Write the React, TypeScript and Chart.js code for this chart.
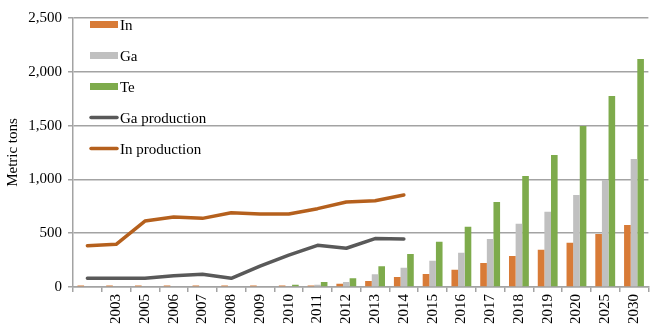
import React, { useEffect, useRef } from 'react';
import { Chart, registerables } from 'chart.js';

Chart.register(...registerables);

// ---- data ----
const categories = ['', '2003', '2005', '2006', '2007', '2008', '2009', '2010', '2011', '2012', '2013', '2014', '2015', '2016', '2017', '2018', '2019', '2020', '2025', '2030'];
const inDemand = [14, 14, 14, 14, 14, 14, 14, 14, 14, 30, 56, 93, 121, 161, 223, 288, 347, 412, 493, 576];
const gaDemand = [7, 7, 7, 7, 7, 7, 7, 7, 20, 46, 118, 180, 245, 319, 446, 588, 700, 855, 994, 1190];
const teDemand = [7, 7, 7, 7, 7, 7, 7, 20, 47, 82, 192, 307, 421, 561, 790, 1032, 1227, 1496, 1775, 2119];
const gaProduction = [81, 81, 81, 105, 118, 81, 195, 297, 387, 360, 450, 446, null, null, null, null, null, null, null, null];
const inProduction = [384, 397, 613, 650, 638, 690, 678, 678, 728, 790, 802, 855, null, null, null, null, null, null, null, null];
const yMin = 0;
const yMax = 2500;
const yStep = 500;
const yTitle = 'Metric tons';

const FONT = '"Liberation Serif", "Times New Roman", serif';
const GRID = '#a3a3a3';
const IN_COLOR = '#d87b37';
const GA_COLOR = '#c0c0c0';
const TE_COLOR = '#7eab4c';
const GA_LINE = '#595959';
const IN_LINE = '#b5601d';

const fmt = (v: number) => String(v).replace(/\B(?=(\d{3})+(?!\d))/g, ',');

const insideLegend = {
  id: 'insideLegend',
  afterDatasetsDraw(chart: any) {
    const { ctx, chartArea } = chart;
    const x0 = chartArea.left + 17;
    ctx.save();
    chart.data.datasets.forEach((ds: any, i: number) => {
      const cy = chartArea.top + 6.5 + i * 31;
      if (ds.type === 'line') {
        ctx.strokeStyle = ds.borderColor;
        ctx.lineWidth = 3.5;
        ctx.lineCap = 'round';
        ctx.beginPath();
        ctx.moveTo(x0 + 1, cy);
        ctx.lineTo(x0 + 27, cy);
        ctx.stroke();
      } else {
        ctx.fillStyle = ds.backgroundColor;
        ctx.fillRect(x0, cy - 3.5, 28, 7);
      }
      ctx.fillStyle = '#000';
      ctx.font = `15px ${FONT}`;
      ctx.textBaseline = 'alphabetic';
      ctx.textAlign = 'left';
      ctx.fillText(ds.label, x0 + 30, cy + 5.5);
    });
    ctx.restore();
  },
};

export default function App() {
  const ref = useRef<HTMLCanvasElement>(null);

  useEffect(() => {
    if (!ref.current) return;
    const chart = new Chart(ref.current, {
      type: 'bar',
      data: {
        labels: categories,
        datasets: [
          { type: 'bar', label: 'In', data: inDemand, backgroundColor: IN_COLOR, categoryPercentage: 0.69, barPercentage: 1, order: 1 },
          { type: 'bar', label: 'Ga', data: gaDemand, backgroundColor: GA_COLOR, categoryPercentage: 0.69, barPercentage: 1, order: 1 },
          { type: 'bar', label: 'Te', data: teDemand, backgroundColor: TE_COLOR, categoryPercentage: 0.69, barPercentage: 1, order: 1 },
          { type: 'line', label: 'Ga production', data: gaProduction, borderColor: GA_LINE, backgroundColor: GA_LINE, borderWidth: 3.5, pointRadius: 0, tension: 0, spanGaps: false, order: 0, borderCapStyle: 'round', borderJoinStyle: 'round' },
          { type: 'line', label: 'In production', data: inProduction, borderColor: IN_LINE, backgroundColor: IN_LINE, borderWidth: 3.5, pointRadius: 0, tension: 0, spanGaps: false, order: 0, borderCapStyle: 'round', borderJoinStyle: 'round' },
        ] as any,
      },
      options: {
        responsive: false,
        animation: false,
        layout: { padding: { left: 0, right: 0, top: 18, bottom: 0 } },
        plugins: {
          legend: { display: false },
          tooltip: { enabled: false },
        },
        scales: {
          x: {
            offset: true,
            grid: { display: true, drawOnChartArea: false, drawTicks: true, tickLength: 5, color: GRID, lineWidth: 1.5, offset: true },
            border: { display: true, color: GRID, width: 1.5 },
            ticks: { color: '#000', font: { family: FONT, size: 15 }, minRotation: 90, maxRotation: 90, autoSkip: false, padding: 2 },
            afterFit: (s: any) => { s.height = 40; },
          },
          y: {
            min: yMin,
            max: yMax,
            grid: { color: GRID, lineWidth: 1.5, tickLength: 5, drawTicks: true },
            border: { display: true, color: GRID, width: 1.5 },
            ticks: { stepSize: yStep, color: '#000', font: { family: FONT, size: 15 }, padding: 6, callback: (v: any) => fmt(Number(v)) },
            title: { display: true, text: yTitle, color: '#000', font: { family: FONT, size: 15 }, padding: { top: 4, bottom: 0 } },
            afterFit: (s: any) => { s.width = 73; },
          },
        },
      },
      plugins: [insideLegend],
    });
    return () => chart.destroy();
  }, []);

  return (
    <div style={{ position: 'fixed', left: 0, top: 0, width: 654, height: 327, background: '#fff' }}>
      <canvas ref={ref} width={654} height={327} style={{ display: 'block' }} />
    </div>
  );
}
